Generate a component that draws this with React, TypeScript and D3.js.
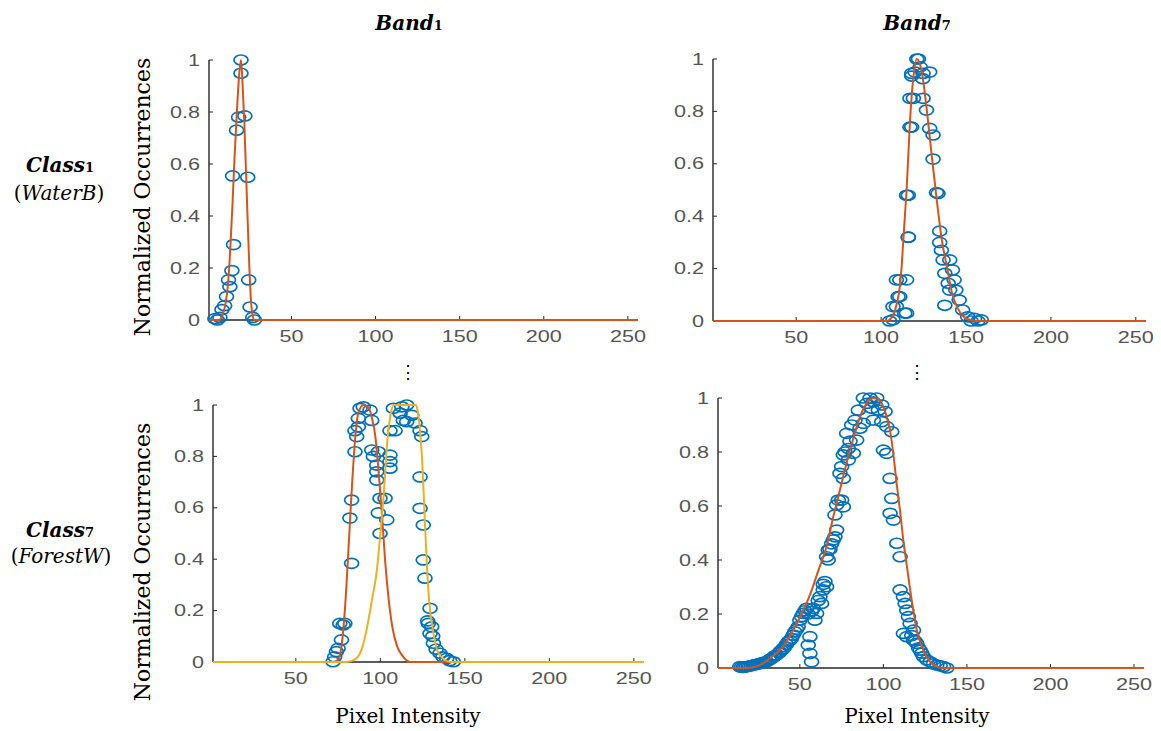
import React from 'react';
import * as d3 from 'd3';

// axis ticks shared by all four panels
const xTicks = [50, 100, 150, 200, 250];
const yTicks = [0, 0.2, 0.4, 0.6, 0.8, 1];
const yTickLabels = ['0', '0.2', '0.4', '0.6', '0.8', '1'];
const xDomain = [1, 256];

// Band 1 / Class 1 (WaterB)
const b1c1Points = [
  [4.5, 0.005], [6, 0.0], [7.5, 0.01], [8.7, 0.04], [10.3, 0.055], [11.4, 0.09],
  [12.6, 0.154], [13.4, 0.128], [14.6, 0.19], [15.6, 0.29], [15, 0.554], [17.4, 0.73],
  [18.6, 0.78], [20, 1], [20, 0.949], [22.3, 0.785], [24, 0.549], [24.6, 0.154],
  [25.4, 0.05], [27, 0.01], [28, 0.0],
];
const b1c1Fit = [
  [1, 0], [7, 0], [9, 0.02], [11, 0.07], [12, 0.12], [13, 0.2], [14, 0.32], [15, 0.45],
  [16, 0.6], [17, 0.73], [18, 0.85], [19, 0.95], [20, 1], [21, 0.9], [22, 0.76],
  [23, 0.57], [24, 0.38], [25, 0.2], [26, 0.07], [27, 0.015], [28, 0], [256, 0],
];

// Band 7 / Class 1 (WaterB)
const b7c1Points = [
  [105, 0], [107, 0.005], [109, 0.055], [111, 0.093], [111, 0.157], [115, 0.157],
  [115, 0.03], [116, 0.32], [115, 0.48], [118, 0.74], [119, 0.85], [118, 0.935],
  [121, 1], [122, 1], [118, 0.945], [124.7, 0.945], [128.6, 0.95], [124.5, 0.925],
  [117, 0.85], [124.7, 0.85], [126.7, 0.805], [117, 0.74], [128.6, 0.735], [130.6, 0.71],
  [130.6, 0.618], [116, 0.48], [132.6, 0.49], [133.5, 0.487], [116, 0.32], [134.5, 0.343],
  [134.5, 0.3], [135.5, 0.27], [136.5, 0.233], [140.4, 0.233], [137.5, 0.182], [142, 0.195],
  [139.5, 0.144], [143, 0.157], [140.4, 0.118], [144, 0.118], [137.5, 0.06], [146, 0.08],
  [148, 0.042], [151, 0.016], [155, 0.01], [159, 0.004], [109, 0.157], [110, 0.093],
  [107, 0.055], [113.9, 0.03], [153, 0.0], [157, 0.0], [120, 0.95], [123, 0.97],
];
const b7c1Fit = [
  [1, 0], [103, 0], [105, 0.005], [107, 0.02], [109, 0.06], [111, 0.13], [112, 0.2],
  [113, 0.3], [114, 0.4], [115, 0.5], [116, 0.63], [117, 0.76], [118, 0.86], [119, 0.93],
  [121, 1], [124, 0.95], [127, 0.8], [130, 0.62], [133, 0.45], [136, 0.3], [139, 0.2],
  [142, 0.1], [145, 0.05], [148, 0.02], [152, 0.005], [156, 0], [256, 0],
];

// Band 1 / Class 7 (ForestW)
const b1c7Points = [
  [89.9, 0.993], [88, 0.987], [93.9, 0.98], [87, 0.948], [94.9, 0.94], [87, 0.915],
  [85, 0.9], [86, 0.877], [85, 0.818], [94.9, 0.825], [98.8, 0.818], [95.9, 0.8],
  [105.7, 0.805], [97.9, 0.766], [105.7, 0.78], [105.7, 0.754], [97.9, 0.74], [97.9, 0.708],
  [83, 0.63], [102.8, 0.637], [99.8, 0.637], [82, 0.56], [98.8, 0.58], [103.8, 0.553],
  [99.8, 0.5], [83, 0.384], [78, 0.144], [76, 0.15], [77, 0.086], [75, 0.053], [73, 0.02],
  [72, 0.001], [79, 0.15], [74, 0.04], [107.7, 0.987], [112.7, 0.993], [115.6, 1],
  [111.7, 0.968], [118.6, 0.96], [113.6, 0.94], [120.5, 0.93], [108.7, 0.9], [105.7, 0.9],
  [123.5, 0.9], [124.5, 0.877], [115.6, 0.935], [123.5, 0.72], [123.5, 0.598], [125.4, 0.533],
  [125.4, 0.397], [126.4, 0.326], [129.4, 0.209], [128.4, 0.15], [130.4, 0.137],
  [129.4, 0.111], [131.4, 0.073], [135.3, 0.034], [139.3, 0.014], [143.2, 0.001],
  [128, 0.16], [131, 0.1], [133, 0.05], [137, 0.02], [141, 0.005],
];
const b1c7FitA = [
  [1, 0], [72, 0], [75, 0.01], [77, 0.06], [79, 0.2], [81, 0.42], [83, 0.66], [85, 0.86],
  [87, 0.97], [90, 1], [93, 0.99], [95, 0.95], [97, 0.88], [99, 0.74], [101, 0.57],
  [103, 0.38], [105, 0.24], [107, 0.14], [110, 0.06], [113, 0.025], [118, 0], [256, 0],
];
const b1c7FitB = [
  [1, 0], [80, 0], [85, 0.01], [89, 0.05], [92, 0.13], [95, 0.24], [98, 0.36], [100, 0.5],
  [102, 0.65], [104, 0.85], [106, 0.96], [108, 1], [121, 1], [122, 0.98], [123.5, 0.9],
  [125, 0.75], [126, 0.6], [127.5, 0.38], [129, 0.23], [130.5, 0.15], [133, 0.06],
  [136, 0.02], [142, 0], [256, 0],
];

// Band 7 / Class 7 (ForestW)
const b7c7Points = [
  [88, 1], [92, 1], [96, 1], [94, 0.986], [99, 0.974], [90, 0.98], [85, 0.955], [93, 0.962],
  [97, 0.955], [101, 0.95], [83, 0.918], [88, 0.906], [94, 0.918], [99, 0.912], [81, 0.9],
  [86, 0.888], [102, 0.894], [105, 0.875], [78, 0.869], [84, 0.844], [79, 0.813], [82, 0.795],
  [76, 0.789], [79, 0.77], [100, 0.807], [102, 0.795], [75, 0.746], [74, 0.721], [76, 0.702],
  [73, 0.622], [75, 0.622], [72, 0.604], [76, 0.597], [71, 0.567], [104, 0.702], [105, 0.628],
  [104, 0.573], [106, 0.548], [72, 0.511], [71, 0.486], [70, 0.474], [67, 0.437], [66, 0.412],
  [67, 0.4], [108, 0.462], [110, 0.412], [65, 0.32], [66, 0.301], [64, 0.289], [62, 0.264],
  [63, 0.239], [58, 0.221], [60, 0.202], [59, 0.177], [110, 0.289], [112, 0.264], [113, 0.239],
  [114, 0.214], [115, 0.19], [116, 0.165], [112, 0.128], [114, 0.116], [118, 0.14], [118, 0.103],
  [56, 0.116], [55, 0.085], [56, 0.054], [57, 0.023],
  [14, 0.005], [15, 0.003], [16, 0.002], [17, 0.004], [18, 0.005], [19, 0.006], [20, 0.007],
  [21, 0.009], [22, 0.011], [23, 0.012], [24, 0.013], [25, 0.015], [26, 0.017], [27, 0.018],
  [28, 0.02], [29, 0.022], [30, 0.023], [31.7, 0.03], [32, 0.032], [33, 0.035], [34.5, 0.042],
  [35, 0.045], [36, 0.048], [37.7, 0.056], [38, 0.06], [39, 0.066], [40, 0.072], [41, 0.079],
  [42, 0.088], [43, 0.097], [44, 0.103], [45, 0.11], [46, 0.122], [47, 0.134], [48, 0.143],
  [49, 0.153], [50, 0.177], [51, 0.19], [52, 0.202], [53, 0.212], [54, 0.221], [55, 0.2],
  [57, 0.21], [61, 0.25], [64, 0.31], [68, 0.44], [69, 0.46], [77, 0.8], [80, 0.84],
  [120, 0.091], [122, 0.066], [124, 0.042], [128, 0.023], [132, 0.011], [136, 0.005], [138, 0],
  [117, 0.12], [119, 0.1], [121, 0.075], [123, 0.055], [126, 0.03], [130, 0.015], [134, 0.008],
];
const b7c7Fit = [
  [1, 0], [18, 0], [25, 0.008], [33, 0.04], [40, 0.08], [46, 0.14], [51, 0.2], [56, 0.27],
  [61, 0.36], [66, 0.45], [70, 0.56], [74, 0.66], [78, 0.76], [82, 0.85], [86, 0.93],
  [90, 0.98], [94, 1], [98, 0.99], [101, 0.95], [104, 0.88], [106, 0.79], [108, 0.68],
  [110, 0.58], [112, 0.47], [114, 0.38], [116, 0.29], [118, 0.21], [120, 0.14], [123, 0.08],
  [126, 0.04], [130, 0.012], [135, 0], [256, 0],
];

const BLUE = '#0072BD';
const ORANGE = '#D95319';
const YELLOW = '#EDB120';
const SERIF = '"DejaVu Serif", serif';
const SANS = '"Liberation Sans", Arial, sans-serif';

type Box = { left: number; right: number; top: number; bottom: number };
type Fit = { data: number[][]; color: string };

function Panel({ box, points, fits }: { box: Box; points: number[][]; fits: Fit[] }) {
  const x = d3.scaleLinear().domain(xDomain).range([box.left, box.right]);
  const y = d3.scaleLinear().domain([0, 1]).range([box.bottom, box.top]);
  const line = d3.line<number[]>()
    .x(d => x(d[0]))
    .y(d => y(d[1]))
    .curve(d3.curveMonotoneX);

  return (
    <g>
      {/* axes */}
      <line x1={x(1)} x2={x(1)} y1={y(0)} y2={y(1)} stroke="#262626" strokeWidth={1.4} />
      <line x1={x(1)} x2={x(256)} y1={y(0)} y2={y(0)} stroke="#262626" strokeWidth={1.4} />
      {yTicks.map((t, i) => (
        <g key={'y' + t}>
          <line x1={x(1)} x2={x(1) + 4} y1={y(t)} y2={y(t)} stroke="#262626" strokeWidth={1} />
          <text
            transform={`translate(${x(1) - 9},${y(t)}) scale(1.35,1)`}
            dy="0.35em"
            textAnchor="end"
            fontFamily={SANS}
            fontSize={16}
            fill="#555"
          >
            {yTickLabels[i]}
          </text>
        </g>
      ))}
      {xTicks.map(t => (
        <g key={'x' + t}>
          <line x1={x(t)} x2={x(t)} y1={y(0)} y2={y(0) - 4} stroke="#262626" strokeWidth={1} />
          <text
            transform={`translate(${x(t)},${y(0) + 22}) scale(1.35,1)`}
            textAnchor="middle"
            fontFamily={SANS}
            fontSize={16}
            fill="#555"
          >
            {t}
          </text>
        </g>
      ))}
      {/* observed histogram */}
      {points.map((d, i) => (
        <ellipse
          key={i}
          cx={x(d[0])}
          cy={y(d[1])}
          rx={7}
          ry={5}
          fill="none"
          stroke={BLUE}
          strokeWidth={1.7}
        />
      ))}
      {/* fitted curves */}
      {fits.map((f, i) => (
        <path key={i} d={line(f.data) || ''} fill="none" stroke={f.color} strokeWidth={2} />
      ))}
    </g>
  );
}

function Sub({ main, sub, x, y }: { main: string; sub: string; x: number; y: number }) {
  return (
    <text x={x} y={y} textAnchor="middle" fontFamily={SERIF} fontSize={20} fontWeight="bold" fontStyle="italic" fill="#000">
      {main}
      <tspan fontSize={13} fontStyle="normal">{sub}</tspan>
    </text>
  );
}

export default function App() {
  const W = 1161;
  const H = 731;
  return (
    <svg width={W} height={H} style={{ position: 'absolute', left: 0, top: 0, background: '#fff' }}>
      <rect width={W} height={H} fill="#fff" />

      <Sub main="Band" sub="1" x={409} y={30} />
      <Sub main="Band" sub="7" x={917} y={30} />

      <Sub main="Class" sub="1" x={60} y={172} />
      <text x={59} y={200} textAnchor="middle" fontFamily={SERIF} fontSize={20} fill="#000">
        (<tspan fontStyle="italic">WaterB</tspan>)
      </text>
      <Sub main="Class" sub="7" x={60} y={537} />
      <text x={61} y={563} textAnchor="middle" fontFamily={SERIF} fontSize={20} fill="#000">
        (<tspan fontStyle="italic">ForestW</tspan>)
      </text>

      <text transform="translate(150,197) rotate(-90)" textAnchor="middle" fontFamily={SERIF} fontSize={22} fill="#000">
        Normalized Occurrences
      </text>
      <text transform="translate(150,562) rotate(-90)" textAnchor="middle" fontFamily={SERIF} fontSize={22} fill="#000">
        Normalized Occurrences
      </text>

      <text x={408} y={723} textAnchor="middle" fontFamily={SERIF} fontSize={20} fill="#000">Pixel Intensity</text>
      <text x={917} y={723} textAnchor="middle" fontFamily={SERIF} fontSize={20} fill="#000">Pixel Intensity</text>

      <text x={408} y={378} textAnchor="middle" fontFamily={SERIF} fontSize={18} fill="#000">⋮</text>
      <text x={917} y={378} textAnchor="middle" fontFamily={SERIF} fontSize={18} fill="#000">⋮</text>

      <Panel box={{ left: 209, right: 638, top: 60, bottom: 320 }} points={b1c1Points} fits={[{ data: b1c1Fit, color: ORANGE }]} />
      <Panel box={{ left: 713, right: 1146, top: 59, bottom: 321 }} points={b7c1Points} fits={[{ data: b7c1Fit, color: ORANGE }]} />
      <Panel
        box={{ left: 213, right: 644, top: 405, bottom: 662 }}
        points={b1c7Points}
        fits={[{ data: b1c7FitA, color: ORANGE }, { data: b1c7FitB, color: YELLOW }]}
      />
      <Panel box={{ left: 718, right: 1144, top: 398, bottom: 668 }} points={b7c7Points} fits={[{ data: b7c7Fit, color: ORANGE }]} />
    </svg>
  );
}
